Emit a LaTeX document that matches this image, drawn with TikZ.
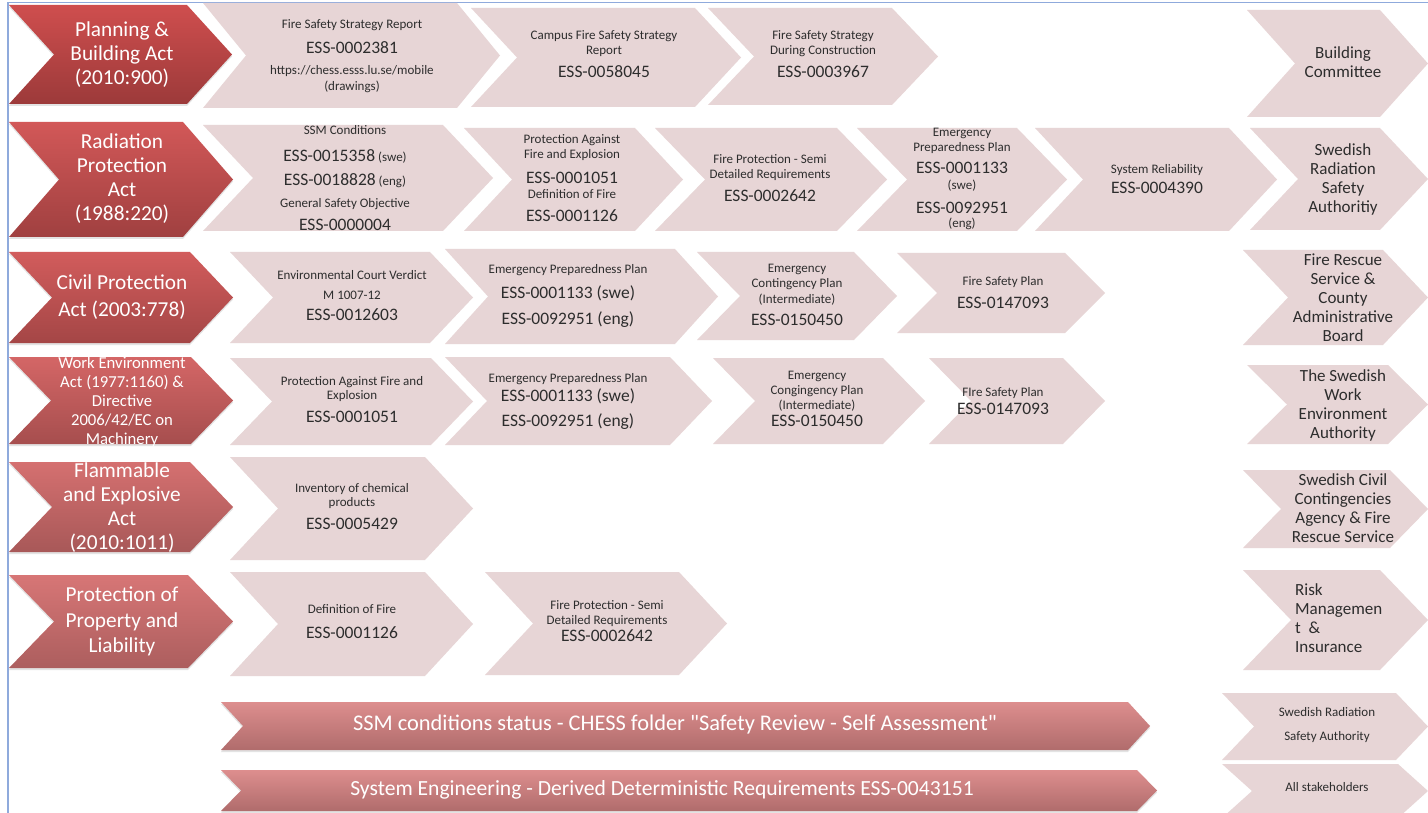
\documentclass[tikz,border=0pt]{standalone}
\usepackage{fontspec}
\setmainfont{Carlito}
\newfontfamily\plainfont{Carlito}
\usetikzlibrary{shadows}
\definecolor{pinkc}{RGB}{231,213,214}
\definecolor{txtc}{RGB}{45,45,45}
\definecolor{bordc}{RGB}{143,170,220}
\definecolor{r1t}{RGB}{207,78,78}\definecolor{r1b}{RGB}{156,58,58}
\definecolor{r2t}{RGB}{210,88,88}\definecolor{r2b}{RGB}{160,64,64}
\definecolor{r3t}{RGB}{210,92,92}\definecolor{r3b}{RGB}{164,70,70}
\definecolor{r4t}{RGB}{212,102,102}\definecolor{r4b}{RGB}{166,78,78}
\definecolor{r5t}{RGB}{213,112,112}\definecolor{r5b}{RGB}{168,88,88}
\definecolor{r6t}{RGB}{215,118,118}\definecolor{r6b}{RGB}{172,94,94}
\definecolor{bart}{RGB}{221,142,142}\definecolor{barb}{RGB}{176,108,108}
% chevron: #1 style, #2 left, #3 tip, #4 top, #5 bottom, #6 depth
\newcommand{\chev}[6]{\path[#1] (#2,#4) -- ({#3-#6},#4) -- (#3,{(#4+#5)/2}) -- ({#3-#6},#5) -- (#2,#5) -- ({#2+#6},{(#4+#5)/2}) -- cycle;}
\newcommand{\essn}[1]{{\fontsize{17.5}{0}\selectfont #1}}
\newcommand{\nolsl}{\lineskiplimit-1000pt\relax}
\newcommand{\fzs}[1]{\fontsize{#1}{0}\selectfont\nolsl}
\tikzset{
  pinkbox/.style={fill=pinkc},
  redbox/.style 2 args={top color=#1, bottom color=#2, drop shadow={opacity=0.22,shadow xshift=0pt,shadow yshift=-2pt}},
  basetxt/.style={inner sep=0pt, anchor=north, align=center},
  ptxt/.style={basetxt, text=txtc, font={\fzs{13}}},
  atxt/.style={basetxt, text=txtc, font={\fzs{17}}},
  rtxt/.style={basetxt, text=white, font={\fzs{21.3}}},
  rtxtsmall/.style={basetxt, text=white, font={\fzs{16.7}}},
  bartxt/.style={inner sep=0pt, anchor=center, text=white, font={\plainfont\fontsize{22}{26}\selectfont}},
}
\begin{document}
\begin{tikzpicture}[x=1pt,y=-1pt]
\fill[white] (0,0) rectangle (1428,813);
\useasboundingbox (0,0) rectangle (1428,813);
\draw[bordc, line width=1.5pt] (8,813) -- (8,2.5) -- (1428,2.5);

% ---------- Row 1
\chev{pinkbox}{203}{500}{3}{108}{43}
\chev{pinkbox}{471}{741}{8}{107}{46}
\chev{pinkbox}{708}{938}{8}{105}{46}
\chev{pinkbox}{1247}{1428}{10}{117}{48}
\chev{redbox={r1t}{r1b}}{9}{232}{5}{104}{45}
\node[rtxt] (r1) at (122,22) {Planning \&\\[24pt]Building Act\\[24pt](2010:900)};
\node[ptxt] (p1a) at (352,19) {Fire Safety Strategy Report\\[25pt]\essn{ESS-0002381}\\[21pt]https://chess.esss.lu.se/mobile\\[16pt](drawings)};
\node[ptxt] (p1b) at (604,30) {Campus Fire Safety Strategy\\[15pt]Report\\[23pt]\essn{ESS-0058045}};
\node[ptxt] (p1c) at (823,30) {Fire Safety Strategy\\[15pt]During Construction\\[23pt]\essn{ESS-0003967}};
\node[atxt] (a1) at (1343,46.5) {Building\\[19pt]Committee};

% ---------- Row 2
\chev{pinkbox}{203}{493}{125}{231}{50}
\chev{pinkbox}{464}{683}{128}{231}{48}
\chev{pinkbox}{655}{887}{128}{231}{50}
\chev{pinkbox}{857}{1067}{128}{231}{50}
\chev{pinkbox}{1035}{1277}{128}{231}{48}
\chev{pinkbox}{1250}{1428}{128}{230}{48}
\chev{redbox={r2t}{r2b}}{9}{233}{122}{237}{50}
\node[rtxt] (r2) at (122,134) {Radiation\\[24pt]Protection\\[24pt]Act\\[24pt](1988:220)};
\node[ptxt] (p2a) at (345,125) {SSM Conditions\\[27pt]\essn{ESS-0015358} (swe)\\[24pt]\essn{ESS-0018828} (eng)\\[22pt]General Safety Objective\\[23pt]\essn{ESS-0000004}};
\node[ptxt] (p2b) at (572,134) {Protection Against\\[15pt]Fire and Explosion\\[25pt]\essn{ESS-0001051}\\[15pt]Definition of Fire\\[23pt]\essn{ESS-0001126}};
\node[ptxt] (p2c) at (770,154) {Fire Protection - Semi\\[15pt]Detailed Requirements\\[23pt]\essn{ESS-0002642}};
\node[ptxt] (p2d) at (962,128) {Emergency\\[15pt]Preparedness Plan\\[22pt]\essn{ESS-0001133}\\[16pt](swe)\\[24pt]\essn{ESS-0092951}\\[14pt](eng)};
\node[ptxt] (p2e) at (1157,164) {System Reliability\\[20pt]\essn{ESS-0004390}};
\node[atxt] (a2) at (1343,143.5) {Swedish\\[19pt]Radiation\\[19pt]Safety\\[19pt]Authoritiy};

% ---------- Row 3
\chev{pinkbox}{230}{473}{252}{343}{43}
\chev{pinkbox}{445}{718}{249}{344}{43}
\chev{pinkbox}{697}{897}{252}{340}{43}
\chev{pinkbox}{897}{1105}{253}{333}{40}
\chev{pinkbox}{1243}{1428}{250}{345}{45}
\chev{redbox={r3t}{r3b}}{9}{233}{252}{343}{43}
\node[rtxt] (r3) at (122,275) {Civil Protection\\[27pt]Act (2003:778)};
\node[ptxt] (p3a) at (352,270) {Environmental Court Verdict\\[20pt]M 1007-12\\[21pt]\essn{ESS-0012603}};
\node[ptxt] (p3b) at (568,264) {Emergency Preparedness Plan\\[25pt]\essn{ESS-0001133 (swe)}\\[26pt]\essn{ESS-0092951 (eng)}};
\node[ptxt] (p3c) at (797,264) {Emergency\\[15pt]Contingency Plan\\[16pt](Intermediate)\\[22pt]\essn{ESS-0150450}};
\node[ptxt] (p3d) at (1003,276) {Fire Safety Plan\\[23pt]\essn{ESS-0147093}};
\node[atxt] (a3) at (1343,253.5) {Fire Rescue\\[19pt]Service \&\\[19pt]County\\[19pt]Administrative\\[19pt]Board};

% ---------- Row 4
\chev{pinkbox}{230}{473}{358}{445}{42}
\chev{pinkbox}{445}{712}{357}{445}{42}
\chev{pinkbox}{713}{925}{358}{444}{42}
\chev{pinkbox}{929}{1105}{358}{444}{42}
\chev{pinkbox}{1247}{1428}{365}{444}{40}
\chev{redbox={r4t}{r4b}}{9}{233}{357}{444}{42}
\node[rtxtsmall] (r4) at (122,357) {Work Environment\\[19pt]Act (1977:1160) \&\\[19pt]Directive\\[19pt]2006/42/EC on\\[19pt]Machinery};
\node[ptxt] (p4a) at (352,376) {Protection Against Fire and\\[14pt]Explosion\\[23pt]\essn{ESS-0001051}};
\node[ptxt] (p4b) at (568,373) {Emergency Preparedness Plan\\[19pt]\essn{ESS-0001133 (swe)}\\[25pt]\essn{ESS-0092951 (eng)}};
\node[ptxt] (p4c) at (817,371) {Emergency\\[15pt]Congingency Plan\\[15pt](Intermediate)\\[17pt]\essn{ESS-0150450}};
\node[ptxt] (p4d) at (1003,387) {FIre Safety Plan\\[18pt]\essn{ESS-0147093}};
\node[atxt] (a4) at (1343,369.5) {The Swedish\\[19pt]Work\\[19pt]Environment\\[19pt]Authority};

% ---------- Row 5
\chev{pinkbox}{230}{473}{457}{560}{48}
\chev{pinkbox}{1243}{1428}{470}{548}{38}
\chev{redbox={r5t}{r5b}}{9}{233}{462}{552}{43}
\node[rtxt] (r5) at (122,463) {Flammable\\[24pt]and Explosive\\[24pt]Act\\[24pt](2010:1011)};
\node[ptxt] (p5a) at (352,483) {Inventory of chemical\\[14pt]products\\[23pt]\essn{ESS-0005429}};
\node[atxt] (a5) at (1343,473.5) {Swedish Civil\\[19pt]Contingencies\\[19pt]Agency \& Fire\\[19pt]Rescue Service};

% ---------- Row 6
\chev{pinkbox}{230}{473}{572}{676}{48}
\chev{pinkbox}{485}{727}{572}{675}{48}
\chev{pinkbox}{1243}{1428}{570}{670}{48}
\chev{redbox={r6t}{r6b}}{9}{233}{575}{668}{45}
\node[rtxt] (r6) at (122,587) {Protection of\\[25.5pt]Property and\\[25.5pt]Liability};
\node[ptxt] (p6a) at (352,604) {Definition of Fire\\[25pt]\essn{ESS-0001126}};
\node[ptxt] (p6b) at (607,600) {Fire Protection - Semi\\[15pt]Detailed Requirements\\[17pt]\essn{ESS-0002642}};
\node[atxt, anchor=north west, align=left] (a6) at (1295,583.5) {Risk\\[19pt]Managemen\\[19pt]t \ \&\\[19pt]Insurance};

% ---------- Bottom bars
\chev{redbox={bart}{barb}}{221}{1150}{702}{750}{22}
\chev{redbox={bart}{barb}}{221}{1157}{770}{811}{20}
\chev{pinkbox}{1222}{1428}{693}{760}{32}
\chev{pinkbox}{1222}{1428}{764}{818}{30}
\node[bartxt, font={\plainfont\fontsize{22.4}{26}\selectfont}] (b1) at (675,725) {SSM conditions status - CHESS folder "Safety Review - Self Assessment"};
\node[bartxt, font={\plainfont\fontsize{21.6}{26}\selectfont}] (b2) at (662,790) {System Engineering - Derived Deterministic Requirements ESS-0043151};
\node[ptxt, font={\fzs{13}}] (a7) at (1327,707.5) {Swedish Radiation\\[24pt]Safety Authority};
\node[ptxt, font={\fzs{13}}] (a8) at (1327,782.6) {All stakeholders};
\end{tikzpicture}
\end{document}
